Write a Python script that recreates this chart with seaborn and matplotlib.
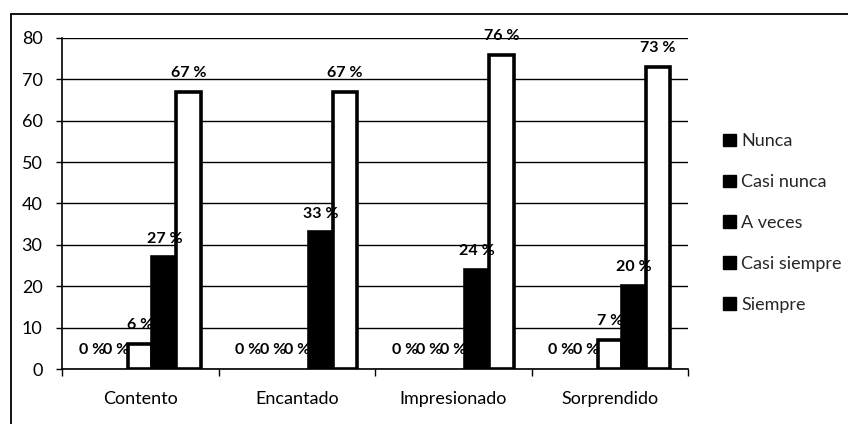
import matplotlib
matplotlib.use("Agg")
import matplotlib.pyplot as plt
import matplotlib.lines as mlines
import matplotlib.patches as mpatches
import numpy as np
import pandas as pd
import seaborn as sns

# Survey responses per emotion (percent of respondents)
categories = ["Contento", "Encantado", "Impresionado", "Sorprendido"]
levels = ["Nunca", "Casi nunca", "A veces", "Casi siempre", "Siempre"]
nunca = [0, 0, 0, 0]
casi_nunca = [0, 0, 0, 0]
a_veces = [6, 0, 0, 7]
casi_siempre = [27, 33, 24, 20]
siempre = [67, 67, 76, 73]
y_ticks = [0, 10, 20, 30, 40, 50, 60, 70, 80]

series = [nunca, casi_nunca, a_veces, casi_siempre, siempre]
df = pd.DataFrame(
    [(c, lvl, vals[i]) for lvl, vals in zip(levels, series) for i, c in enumerate(categories)],
    columns=["categoria", "frecuencia", "valor"],
)

sns.set_theme(style="white")
plt.rcParams["font.family"] = ["Lato", "DejaVu Sans"]

fig = plt.figure(figsize=(8.48, 4.24), dpi=100)
ax = fig.add_axes([62 / 848, 1 - 369 / 424, (688 - 62) / 848, (369 - 38) / 424])

palette = {"Nunca": "white", "Casi nunca": "black", "A veces": "white",
           "Casi siempre": "black", "Siempre": "white"}
sns.barplot(data=df, x="categoria", y="valor", hue="frecuencia", hue_order=levels,
            order=categories, palette=palette, width=0.77, edgecolor="black",
            linewidth=2.6, legend=False, ax=ax, zorder=3)

# value labels above each bar; empty bars get no outline
for container, lvl in zip(ax.containers, levels):
    for bar, v in zip(container, df[df.frecuencia == lvl]["valor"]):
        if v == 0:
            bar.set_linewidth(0)
        x = bar.get_x() + bar.get_width() / 2
        ax.annotate(f"{v} %", (x, v), xytext=(0, 13.5), textcoords="offset points",
                    ha="center", va="center", fontsize=11.5, fontweight="bold",
                    color="black", zorder=5)

ax.set_ylim(0, 80)
ax.set_xlim(-0.5, 3.5)
ax.set_yticks(y_ticks)
ax.yaxis.grid(True, color="black", linewidth=1)
ax.set_axisbelow(True)
ax.set_xlabel("")
ax.set_ylabel("")
for s in ["top", "right"]:
    ax.spines[s].set_visible(False)
for s in ["left", "bottom"]:
    ax.spines[s].set_color("black")
    ax.spines[s].set_linewidth(1.2)

ax.tick_params(axis="y", left=True, length=4, width=1, color="black",
               labelsize=13, pad=10)
ax.tick_params(axis="x", bottom=False, labelsize=13, pad=10)
ax.set_xticks(np.arange(-0.5, 4.0, 1.0), minor=True)
ax.tick_params(axis="x", which="minor", bottom=True, length=5, width=1, color="black")
for lab in ax.get_xticklabels() + ax.get_yticklabels():
    lab.set_color("black")

# legend with black square markers
handles = [mpatches.Patch(facecolor="black", edgecolor="black", label=l) for l in levels]
fig.legend(handles=handles, loc="upper left", bbox_to_anchor=(716 / 848, 1 - 126 / 424),
           frameon=False, fontsize=13, handlelength=0.7, handleheight=0.7,
           handletextpad=0.3, labelspacing=1.38, borderaxespad=0)

# chart frame (top and left edges)
fig.add_artist(mlines.Line2D([11 / 848, 1], [1 - 14 / 424, 1 - 14 / 424],
                             transform=fig.transFigure, color="black", linewidth=1.3))
fig.add_artist(mlines.Line2D([11 / 848, 11 / 848], [0, 1 - 14 / 424],
                             transform=fig.transFigure, color="black", linewidth=1.3))

fig.savefig("out.png", dpi=100, facecolor="white")
